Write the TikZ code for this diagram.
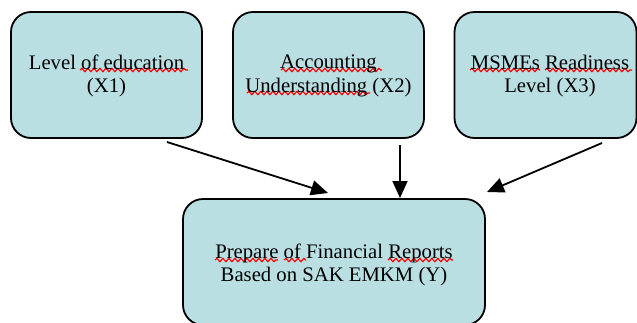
\documentclass[tikz,border=0pt]{standalone}
\usepackage{fontspec}
\setmainfont{Liberation Serif}
\usetikzlibrary{arrows.meta,decorations.pathmorphing}
\definecolor{boxfill}{RGB}{185,223,227}
\tikzset{
  box/.style={draw=black, line width=1.8pt, fill=boxfill, rounded corners=20pt, inner sep=0pt},
  lbl/.style={align=center, font=\fontsize{20.7pt}{23.5pt}\selectfont, inner sep=0pt},
  conn/.style={line width=1.8pt, -{Triangle[length=17pt,width=15pt]}},
  squig/.style={red, line width=1.2pt, decorate, decoration={snake, segment length=6pt, amplitude=1.6pt}}
}
\begin{document}
\begin{tikzpicture}[x=1pt,y=-1pt]
\useasboundingbox (0,0) rectangle (637,322);
\begin{scope}
\clip (0,0) rectangle (637,322);
\node[box, minimum width=191pt, minimum height=126pt] (b1) at (106.5,75) {};
\node[box, minimum width=191pt, minimum height=126pt] (b2) at (328.5,75) {};
\node[box, minimum width=182pt, minimum height=126pt] (b3) at (545.5,75) {};
\node[box, minimum width=302pt, minimum height=126pt] (by) at (334,262) {};
\end{scope}
% spell-check underlines
\coordinate (s1a) at (80,70); \coordinate (s1b) at (188,70);
\draw[squig] (s1a) -- (s1b);
\coordinate (s2a) at (281,70); \coordinate (s2b) at (382,70);
\draw[squig] (s2a) -- (s2b);
\coordinate (s2c) at (247,93); \coordinate (s2d) at (370,93);
\draw[squig] (s2c) -- (s2d);
\coordinate (s3a) at (470,70); \coordinate (s3b) at (540,70);
\draw[squig] (s3a) -- (s3b);
\coordinate (s3c) at (545,70); \coordinate (s3d) at (632,70);
\draw[squig] (s3c) -- (s3d);
\coordinate (sya) at (215,260); \coordinate (syb) at (278,260);
\draw[squig] (sya) -- (syb);
\coordinate (syc) at (284,260); \coordinate (syd) at (306,260);
\draw[squig] (syc) -- (syd);
\coordinate (sye) at (388,260); \coordinate (syf) at (453,260);
\draw[squig] (sye) -- (syf);
\node[lbl] (t1) at (106.5,76) {Level of education\\(X1)};
\node[lbl] (t2) at (328.5,76) {Accounting\\Understanding (X2)};
\node[lbl] (t3) at (550,76) {MSMEs Readiness\\Level (X3)};
\node[lbl] (ty) at (334,265) {Prepare of Financial Reports\\Based on SAK EMKM (Y)};
% connectors
\coordinate (a1s) at (167,142); \coordinate (a1e) at (328,193);
\coordinate (a2s) at (400,145); \coordinate (a2e) at (400,198);
\coordinate (a3s) at (602,143); \coordinate (a3e) at (487,192);
\draw[conn] (a1s) -- (a1e);
\draw[conn] (a2s) -- (a2e);
\draw[conn] (a3s) -- (a3e);
\end{tikzpicture}
\end{document}
